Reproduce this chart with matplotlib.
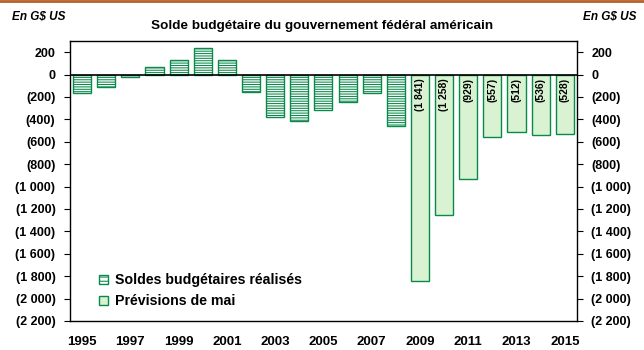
import matplotlib.pyplot as plt
import matplotlib.ticker as mticker
from matplotlib.patches import Patch
from matplotlib.lines import Line2D

plt.rcParams['font.family'] = ['Liberation Sans', 'DejaVu Sans']
plt.rcParams['font.weight'] = 'bold'
plt.rcParams['hatch.linewidth'] = 0.75

# donnees (G$ US)
years_real = [1995, 1996, 1997, 1998, 1999, 2000, 2001, 2002, 2003, 2004, 2005, 2006, 2007, 2008]
solde_real = [-164, -107, -22, 69, 126, 236, 128, -158, -378, -413, -318, -248, -162, -455]
years_prev = [2009, 2010, 2011, 2012, 2013, 2014, 2015]
solde_prev = [-1841, -1258, -929, -557, -512, -536, -528]
yticks = list(range(-2200, 201, 200))
xticks = list(range(1995, 2016, 2))

green = '#0a8a4a'
light = '#d8f2d2'
plt.rcParams['hatch.color'] = green
hatch = '-------'


def fmt(v, pos=None):
    v = int(round(v))
    s = '{:,}'.format(abs(v)).replace(',', ' ')
    return '(' + s + ')' if v < 0 else s


fig = plt.figure(figsize=(6.44, 3.5), dpi=100)
ax = fig.add_axes([0.1087, 0.083, 0.787, 0.8])

ax.bar(years_real, solde_real, width=0.75, color='white', edgecolor=green,
       hatch=hatch, linewidth=1.0)
ax.bar(years_prev, solde_prev, width=0.75, color=light, edgecolor=green, linewidth=1.0)
ax.axhline(0, color='black', lw=1.2)

for x, v in zip(years_prev, solde_prev):
    ax.text(x, -30, fmt(v), rotation=90, ha='center', va='top', fontsize=7.5,
            fontweight='bold')

ax.set_xlim(1994.5, 2015.5)
ax.set_ylim(-2200, 300)
ax.set_yticks(yticks)
ax.yaxis.set_major_formatter(mticker.FuncFormatter(fmt))
ax.set_xticks(xticks)
ax.tick_params(axis='x', length=0, pad=11, labelsize=9.5)
ax.tick_params(axis='y', direction='out', length=4.5, labelsize=9, pad=6,
               right=True, labelright=True)
for sp in ax.spines.values():
    sp.set_linewidth(1.0)

handles = [Patch(facecolor='white', edgecolor=green, hatch='----'),
           Patch(facecolor=light, edgecolor=green)]
ax.legend(handles, ['Soldes budgétaires réalisés', 'Prévisions de mai'],
          loc='lower left', bbox_to_anchor=(0.033, 0.0), frameon=False,
          handlelength=0.6, handleheight=0.6, handletextpad=0.5,
          labelspacing=0.5, prop={'size': 10.2, 'weight': 'bold'})

fig.text(0.5, 0.925, 'Solde budgétaire du gouvernement fédéral américain',
         ha='center', va='center', fontsize=9.7, fontweight='bold')
fig.text(0.0186, 0.952, 'En G$ US', ha='left', va='center', fontsize=8.5,
         fontweight='bold', style='italic')
fig.text(0.988, 0.952, 'En G$ US', ha='right', va='center', fontsize=8.5,
         fontweight='bold', style='italic')
fig.add_artist(Line2D([0, 1], [0.997, 0.997], transform=fig.transFigure,
                      color='#b4622a', lw=2))

fig.savefig('out.png', dpi=100)
